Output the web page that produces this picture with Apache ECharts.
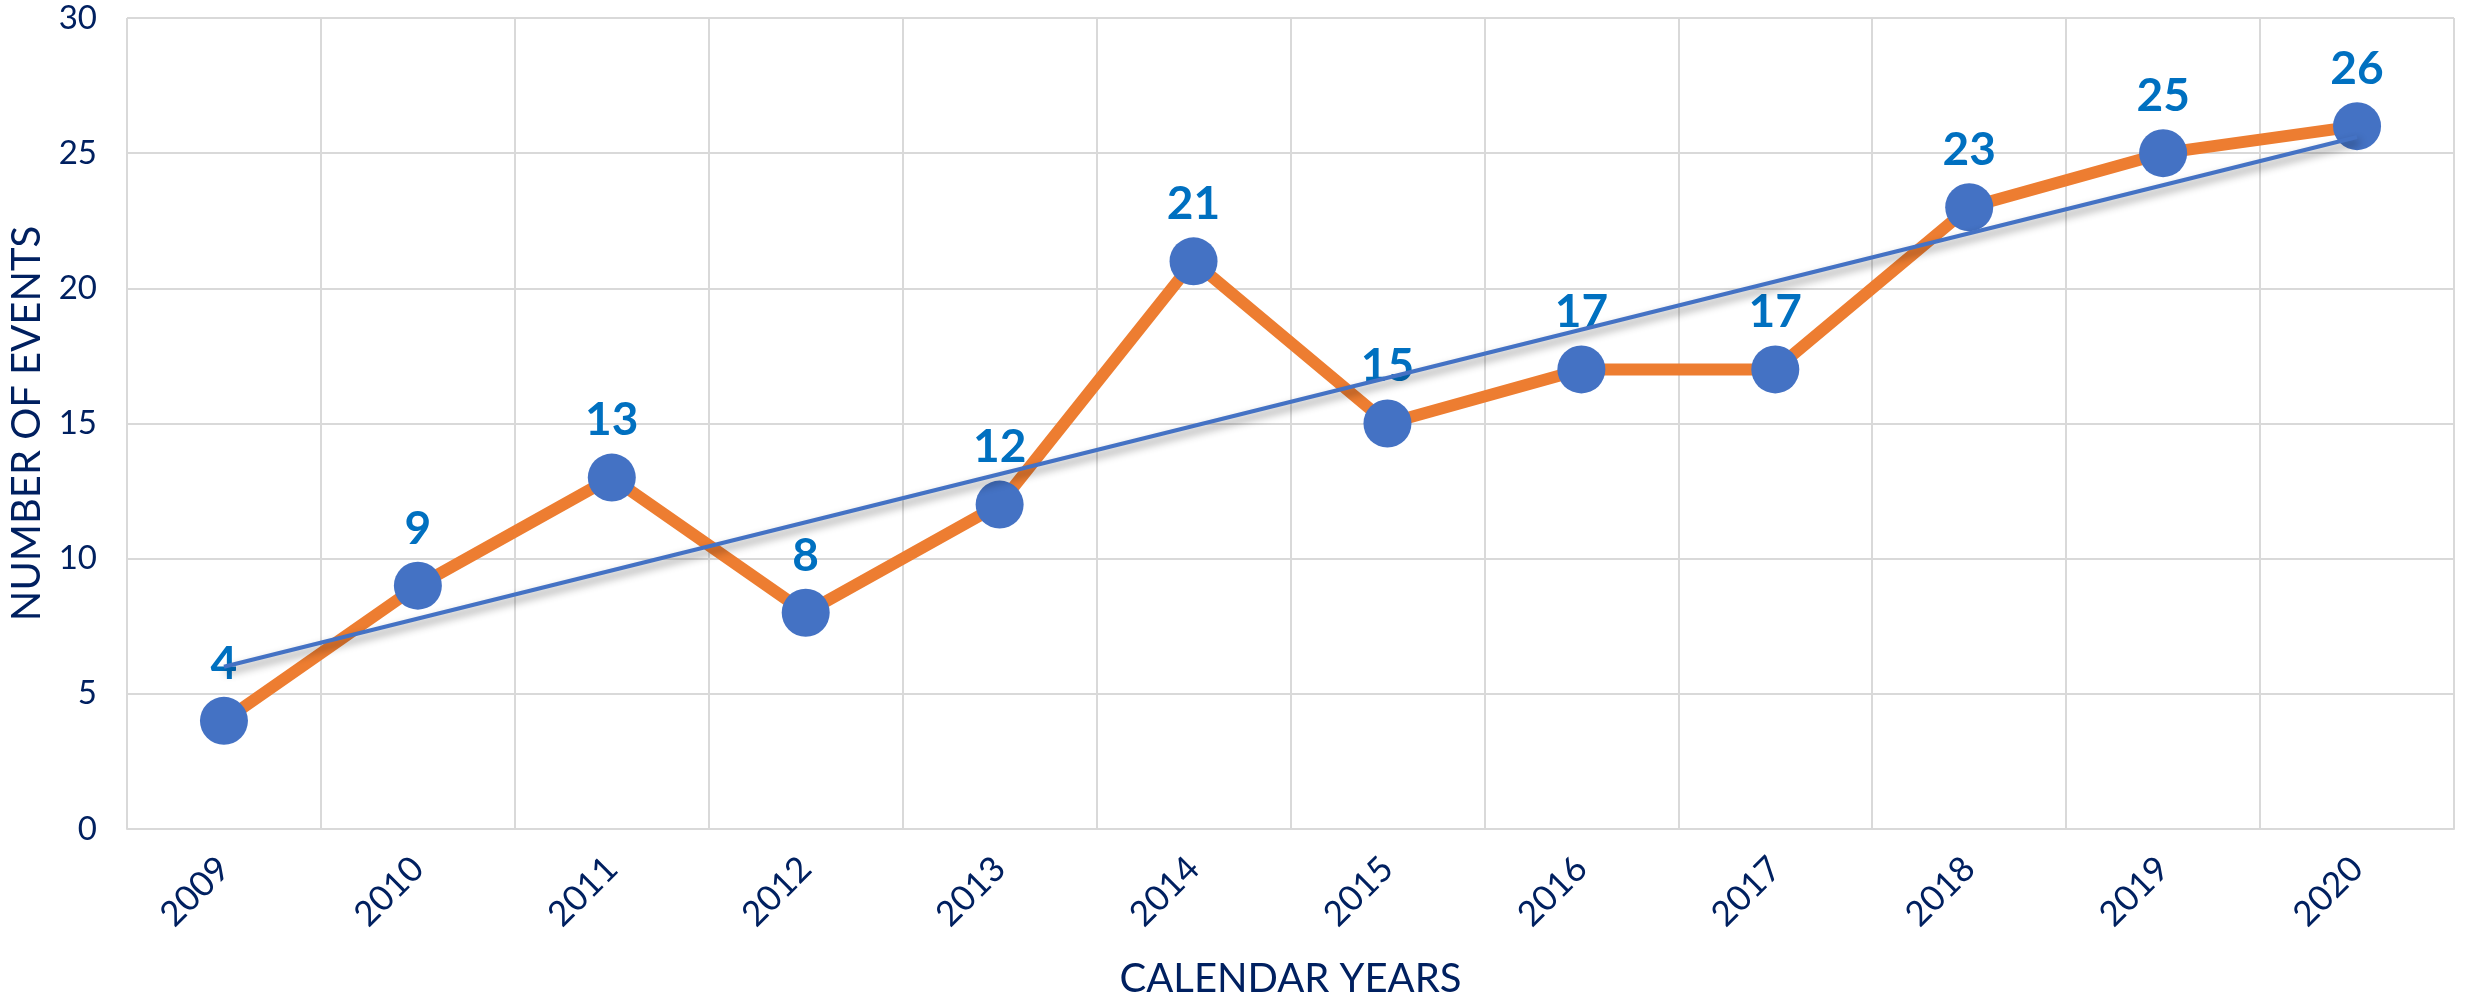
<!DOCTYPE html>
<html>
<head>
<meta charset="utf-8">
<script src="https://cdn.jsdelivr.net/npm/echarts@6/dist/echarts.min.js"></script>
<style>
html,body{margin:0;padding:0;background:#fff;}
#chart{width:2471px;height:998px;}
</style>
</head>
<body>
<div id="chart"></div>
<script>
const years = ['2009','2010','2011','2012','2013','2014','2015','2016','2017','2018','2019','2020'];
const events = [4, 9, 13, 8, 12, 21, 15, 17, 17, 23, 25, 26];
// linear trendline values read at first and last year
const trendline = [6.0, null, null, null, null, null, null, null, null, null, null, 25.6];
const yTicks = [0, 5, 10, 15, 20, 25, 30];

const navy = '#002060';
const grid = '#D9D9D9';
const font = 'Lato, "Open Sans", sans-serif';

const chart = echarts.init(document.getElementById('chart'));
chart.setOption({
  animation: false,
  backgroundColor: '#ffffff',
  grid: { left: 127, right: 17, top: 18, bottom: 169, containLabel: false, outerBoundsMode: 'none' },
  xAxis: {
    type: 'category',
    data: years,
    boundaryGap: true,
    name: 'CALENDAR YEARS',
    nameLocation: 'middle',
    nameGap: 130,
    nameTextStyle: { fontSize: 40, color: navy, fontFamily: font },
    axisLine: { show: true, lineStyle: { color: grid, width: 2 } },
    axisTick: { show: false },
    splitLine: { show: true, lineStyle: { color: grid, width: 2 } },
    axisLabel: { rotate: 45, interval: 0, fontSize: 35, color: navy, fontFamily: font, margin: 34 }
  },
  yAxis: {
    type: 'value',
    min: yTicks[0],
    max: yTicks[yTicks.length - 1],
    interval: yTicks[1] - yTicks[0],
    name: 'NUMBER OF EVENTS',
    nameLocation: 'middle',
    nameGap: 80,
    nameTextStyle: { fontSize: 40, color: navy, fontFamily: font },
    axisLine: { show: false },
    axisTick: { show: false },
    splitLine: { show: true, lineStyle: { color: grid, width: 2 } },
    axisLabel: { fontSize: 33, color: navy, fontFamily: font, margin: 30 }
  },
  series: [
    {
      name: 'Events',
      type: 'line',
      data: events,
      z: 2,
      symbol: 'circle',
      symbolSize: 48,
      lineStyle: { color: '#ED7D31', width: 12 },
      itemStyle: { color: '#4472C4' },
      label: {
        show: true,
        position: 'top',
        distance: 10,
        fontSize: 46,
        fontWeight: 'bold',
        color: '#0070C0',
        fontFamily: font
      }
    },
    {
      name: 'Trend',
      type: 'line',
      data: trendline,
      connectNulls: true,
      showSymbol: false,
      symbol: 'none',
      z: 3,
      lineStyle: {
        color: '#4472C4',
        width: 4,
        shadowColor: 'rgba(0,0,0,0.45)',
        shadowBlur: 8,
        shadowOffsetY: 5,
        shadowOffsetX: 2
      }
    }
  ]
});
</script>
</body>
</html>
